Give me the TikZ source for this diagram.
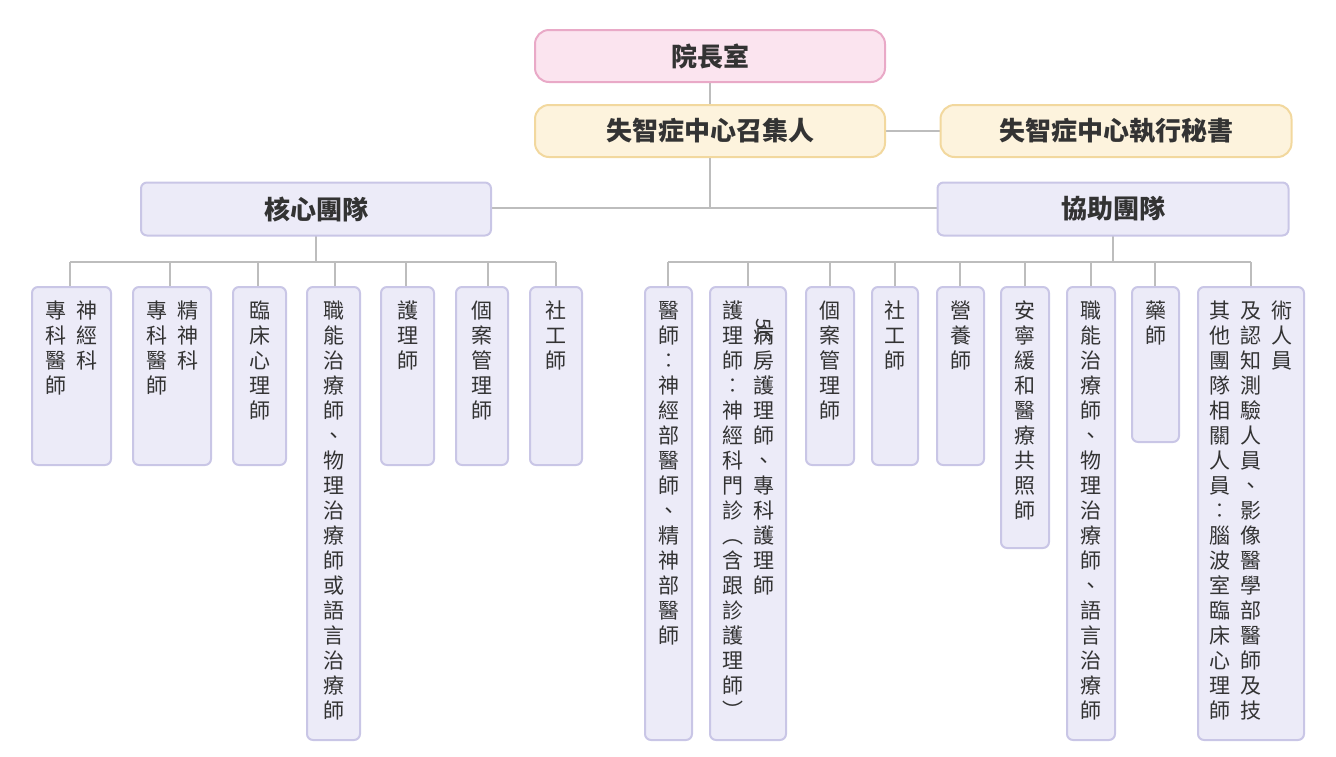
\documentclass[tikz,border=0pt]{standalone}
\usepackage{fontspec}
\usepackage{graphicx}
\setmainfont{Noto Sans CJK TC}
\definecolor{ln}{HTML}{BDBDBD}
\definecolor{tx}{HTML}{333333}
\definecolor{pkf}{HTML}{FBE4EF}\definecolor{pkd}{HTML}{E9A9C7}
\definecolor{ylf}{HTML}{FDF3DD}\definecolor{yld}{HTML}{F2D89E}
\definecolor{puf}{HTML}{ECEBF8}\definecolor{pud}{HTML}{C9C6E6}
\def\vend{\vend}
\def\vloop#1{\ifx#1\vend\else\hbox to 24pt{\hss#1\hss}\expandafter\vloop\fi}
\newcommand\vcol[1]{\vtop{\baselineskip=25pt\lineskiplimit=-20pt\vloop#1\vend}}
\def\fivec{\rotatebox{-90}{\fontsize{20pt}{20pt}\selectfont 5C}}
\tikzset{
 x=1pt,y=-1pt,
 bx/.style={draw=pud,fill=puf,line width=2pt,rounded corners=6pt,inner sep=0pt},
 pk/.style={bx,draw=pkd,fill=pkf,rounded corners=14pt},
 yl/.style={bx,draw=yld,fill=ylf,rounded corners=14pt},
 pu/.style={bx,rounded corners=6pt},
 ttl/.style={text=tx,font=\fontsize{26pt}{30pt}\selectfont\bfseries},
 vt/.style={anchor=north,inner sep=0pt,text=tx,font=\fontsize{21pt}{25pt}\selectfont},
 cn/.style={draw=ln,line width=2.5pt}
}
\newcommand\bxat[5]{% name, x1, x2, y1, y2
 \node[pu,minimum width=#3-#2,minimum height=#5-#4] (#1) at ({(#2+#3)/2},{(#4+#5)/2}) {};}
\begin{document}
\begin{tikzpicture}
\useasboundingbox (0,0) rectangle (1336,756);
% connectors first
\coordinate (tj) at (710,208);
\draw[cn] (710,82) -- (710,208);
\draw[cn] (885,131) -- (941,131);
\draw[cn] (491,208) -- (938,208);
\draw[cn] (316,236) -- (316,262);
\draw[cn] (1113,236) -- (1113,262);
\draw[cn] (70,262) -- (556,262);
\draw[cn] (668,262) -- (1251,262);
\foreach \x in {70,170,258,335,406,488,556,668,748,830,895,960,1025,1091,1155,1251}
  \draw[cn] (\x,262) -- (\x,288);
% top boxes
\node[pk,minimum width=350,minimum height=52,ttl] (a) at (710,56) {院長室};
\node[yl,minimum width=350,minimum height=52,ttl] (b) at (710,131) {失智症中心召集人};
\node[yl,minimum width=351,minimum height=52,ttl] (c) at (1116,131) {失智症中心執行秘書};
\node[pu,minimum width=350,minimum height=53,ttl] (d) at (316,209) {核心團隊};
\node[pu,minimum width=351,minimum height=53,ttl] (e) at (1113,209) {協助團隊};
% left boxes
\bxat{l1}{32}{111}{287}{465}
\bxat{l2}{133}{211}{287}{465}
\bxat{l3}{233}{286}{287}{465}
\bxat{l4}{307}{360}{287}{740}
\bxat{l5}{381}{434}{287}{465}
\bxat{l6}{456}{508}{287}{465}
\bxat{l7}{530}{582}{287}{465}
\node[vt] (t1) at ([yshift=-15pt]l1.north) {\hbox{\vcol{專科醫師}\kern7pt\vcol{神經科}}};
\node[vt] (t2) at ([yshift=-15pt]l2.north) {\hbox{\vcol{專科醫師}\kern7pt\vcol{精神科}}};
\node[vt] (t3) at ([yshift=-15pt]l3.north) {\vcol{臨床心理師}};
\node[vt] (t4) at ([yshift=-15pt]l4.north) {\vcol{職能治療師、物理治療師或語言治療師}};
\node[vt] (t5) at ([yshift=-15pt]l5.north) {\vcol{護理師}};
\node[vt] (t6) at ([yshift=-15pt]l6.north) {\vcol{個案管理師}};
\node[vt] (t7) at ([yshift=-15pt]l7.north) {\vcol{社工師}};
% right boxes
\bxat{r1}{645}{692}{287}{740}
\bxat{r2}{710}{786}{287}{740}
\bxat{r3}{806}{854}{287}{465}
\bxat{r4}{872}{918}{287}{465}
\bxat{r5}{937}{984}{287}{465}
\bxat{r6}{1001}{1049}{287}{548}
\bxat{r7}{1067}{1115}{287}{740}
\bxat{r8}{1132}{1179}{287}{442}
\bxat{r9}{1198}{1304}{287}{740}
\node[vt] (u1) at ([yshift=-15pt]r1.north) {\vcol{醫師︰神經部醫師、精神部醫師}};
\node[vt] (u2) at ([yshift=-15pt]r2.north) {\hbox{\vcol{護理師︰神經科門診︵含跟診護理師︶}\kern7pt\vcol{\fivec 病房護理師、專科護理師}}};
\node[vt] (u3) at ([yshift=-15pt]r3.north) {\vcol{個案管理師}};
\node[vt] (u4) at ([yshift=-15pt]r4.north) {\vcol{社工師}};
\node[vt] (u5) at ([yshift=-15pt]r5.north) {\vcol{營養師}};
\node[vt] (u6) at ([yshift=-15pt]r6.north) {\vcol{安寧緩和醫療共照師}};
\node[vt] (u7) at ([yshift=-15pt]r7.north) {\vcol{職能治療師、物理治療師、語言治療師}};
\node[vt] (u8) at ([yshift=-15pt]r8.north) {\vcol{藥師}};
\node[vt] (u9) at ([yshift=-15pt]r9.north) {\hbox{\vcol{其他團隊相關人員︰腦波室臨床心理師}\kern7pt\vcol{及認知測驗人員、影像醫學部醫師及技}\kern7pt\vcol{術人員}}};
\end{tikzpicture}
\end{document}
